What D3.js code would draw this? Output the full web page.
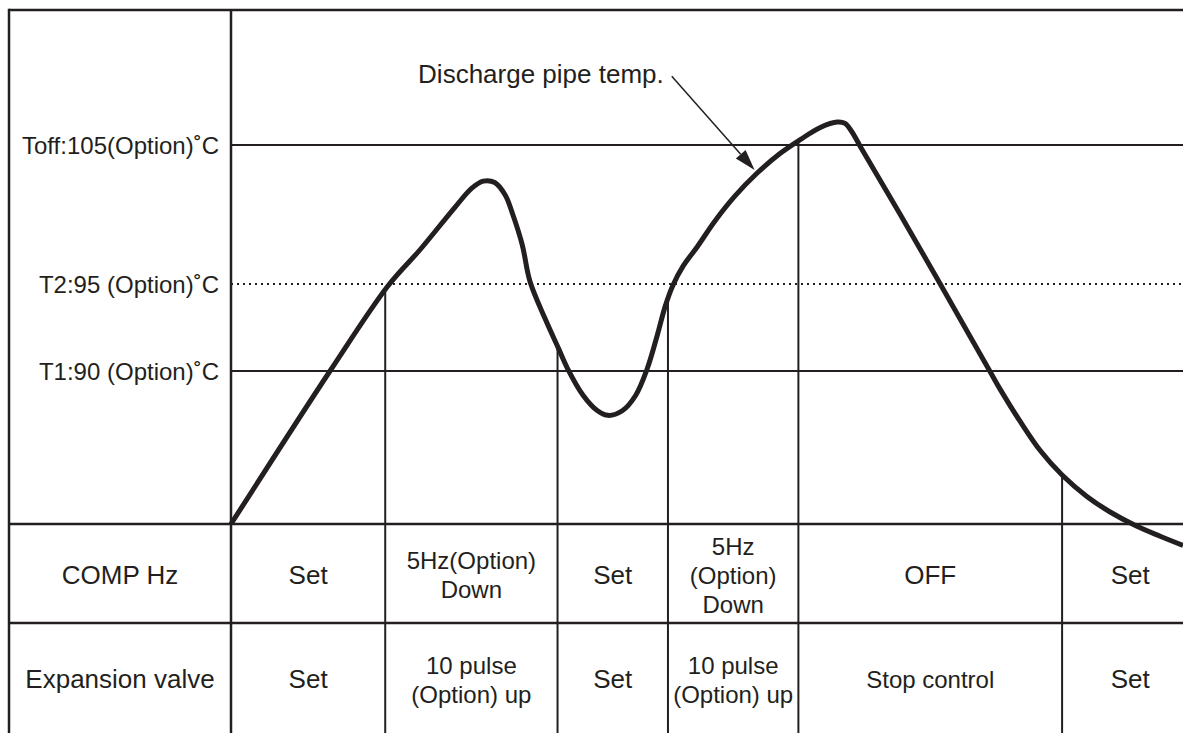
<!DOCTYPE html>
<html>
<head>
<meta charset="utf-8">
<script src="https://cdn.jsdelivr.net/npm/d3@7"></script>
<style>
  html, body { margin: 0; padding: 0; background: #fff; }
  svg { display: block; font-family: "Liberation Sans", Arial, Helvetica, sans-serif; }
</style>
</head>
<body>
<svg id="chart" width="1183" height="733"></svg>
<script>
// Discharge pipe temperature over time (schematic time units, °C)
const timeValues = [0, 10.4, 16.5, 19.9, 23.5, 25.3, 26.5, 27.7, 28.8, 29.6,
                    30.6, 31.4, 33.0, 34.4, 35.3, 37.0, 38.5, 39.6, 41.1, 42.5,
                    43.7, 44.8, 45.6, 46.4, 47.5, 49.0, 50.8, 52.9, 55.3, 57.7,
                    59.8, 61.9, 63.7, 64.5, 65.2, 66.1, 70.3, 74.5, 79.7, 80.8,
                    82.9, 85.0, 87.3, 89.9, 92.3, 95.0, 97.6, 100];
const tempValues = [80, 90, 94.9, 97.5, 100.5, 101.9, 102.4, 102.3, 101.4, 100.0,
                    97.8, 95.2, 93.0, 91.3, 90.2, 88.4, 87.4, 87.1, 87.4, 88.4,
                    90.1, 92.1, 93.7, 94.9, 96.3, 97.7, 99.5, 101.3, 103.0, 104.4,
                    105.4, 106.3, 106.7, 106.6, 106.0, 104.9, 100.0, 95.0, 90.0, 88.8,
                    86.7, 84.8, 83.2, 81.8, 80.8, 79.9, 79.2, 78.6];

// Temperature thresholds
const thresholdLabels = ["Toff:105(Option)˚C", "T2:95 (Option)˚C", "T1:90 (Option)˚C"];
const thresholdValues = [105, 95, 90];
const dottedThreshold = 95;

// Control phases: time at which each phase ends
const phaseEnds = [16.2, 34.3, 45.9, 59.6, 87.3, 101.6];
const rowHeaders = ["COMP Hz", "Expansion valve"];
const compHz = ["Set", "5Hz(Option)\nDown", "Set", "5Hz\n(Option)\nDown", "OFF", "Set"];
const expansionValve = ["Set", "10 pulse\n(Option) up", "Set", "10 pulse\n(Option) up", "Stop control", "Set"];

// Callout for the curve
const calloutText = "Discharge pipe temp.";
const calloutFrom = [46.3, 110.1];
const calloutTo = [55.0, 103.2];

// ---- layout ----
const W = 1183, H = 733;
const ink = "#231f20";
const frameLeft = 9, frameTop = 10, plotLeft = 231, plotRight = W;
const row1Top = 524, row2Top = 623, tableBottom = H;

const x = d3.scaleLinear().domain([0, 100]).range([plotLeft, plotRight]);
// schematic, piecewise temperature axis
const y = d3.scaleLinear().domain([80, 90, 95, 105, 115]).range([row1Top, 371, 284, 145, frameTop]);

const svg = d3.select("#chart");
svg.append("rect").attr("width", W).attr("height", H).attr("fill", "#fff");

// threshold lines
thresholdValues.forEach((v) => {
  svg.append("line")
    .attr("x1", plotLeft).attr("x2", plotRight)
    .attr("y1", y(v)).attr("y2", y(v))
    .attr("stroke", ink)
    .attr("stroke-width", 2)
    .attr("stroke-dasharray", v === dottedThreshold ? "2 4" : null);
});

// threshold labels
svg.selectAll("text.thr")
  .data(thresholdValues)
  .join("text")
  .attr("class", "thr")
  .attr("x", plotLeft - 12)
  .attr("y", (d) => y(d) + 8.5)
  .attr("text-anchor", "end")
  .attr("font-size", 24)
  .attr("fill", ink)
  .text((d, i) => thresholdLabels[i]);

// temperature curve
const points = timeValues.map((t, i) => [x(t), y(tempValues[i])]);
const line = d3.line().curve(d3.curveCatmullRom.alpha(0.5));
const curve = svg.append("path")
  .attr("d", line(points))
  .attr("fill", "none")
  .attr("stroke", ink)
  .attr("stroke-width", 5)
  .attr("stroke-linejoin", "round");

// y of the curve at a given pixel x
const node = curve.node();
const total = node.getTotalLength();
function curveYAt(px) {
  let lo = 0, hi = total;
  for (let k = 0; k < 40; k++) {
    const mid = (lo + hi) / 2;
    if (node.getPointAtLength(mid).x < px) lo = mid; else hi = mid;
  }
  return node.getPointAtLength((lo + hi) / 2).y;
}

// phase boundary markers (curve down through the table)
phaseEnds.slice(0, -1).forEach((t) => {
  svg.insert("line", "path")
    .attr("x1", x(t)).attr("x2", x(t))
    .attr("y1", curveYAt(x(t))).attr("y2", tableBottom)
    .attr("stroke", ink)
    .attr("stroke-width", 2);
});

// table grid and frame
const grid = svg.append("g").attr("stroke", ink).attr("stroke-width", 2.5);
grid.append("line").attr("x1", frameLeft).attr("x2", W).attr("y1", frameTop).attr("y2", frameTop);
grid.append("line").attr("x1", frameLeft).attr("x2", frameLeft).attr("y1", frameTop - 1.25).attr("y2", H);
grid.append("line").attr("x1", plotLeft).attr("x2", plotLeft).attr("y1", frameTop).attr("y2", H);
grid.append("line").attr("x1", frameLeft).attr("x2", W).attr("y1", row1Top).attr("y2", row1Top);
grid.append("line").attr("x1", frameLeft).attr("x2", W).attr("y1", row2Top).attr("y2", row2Top);

// table text
const rows = [
  { header: rowHeaders[0], cells: compHz, center: (row1Top + row2Top) / 2 },
  { header: rowHeaders[1], cells: expansionValve, center: (row2Top + tableBottom) / 2 }
];
const lineStep = 29;
function cellText(cx, cy, text, size) {
  const parts = text.split("\n");
  const n = parts.length;
  const fs = size || ((n === 1 && text.length <= 3) ? 26 : 24);
  const t = svg.append("text")
    .attr("text-anchor", "middle")
    .attr("font-size", fs)
    .attr("fill", ink);
  parts.forEach((p, i) => {
    t.append("tspan")
      .attr("x", cx)
      .attr("y", cy + 10 + (i - (n - 1) / 2) * lineStep)
      .text(p);
  });
}
rows.forEach((r) => {
  cellText((frameLeft + plotLeft) / 2, r.center, r.header, 26);
  r.cells.forEach((c, i) => {
    const start = i === 0 ? 0 : phaseEnds[i - 1];
    cellText((x(start) + x(phaseEnds[i])) / 2, r.center, c);
  });
});

// callout arrow
const p0 = [x(calloutFrom[0]), y(calloutFrom[1])];
const p1 = [x(calloutTo[0]), y(calloutTo[1])];
const dx = p1[0] - p0[0], dy = p1[1] - p0[1];
const len = Math.hypot(dx, dy);
const ux = dx / len, uy = dy / len;
const headLen = 21, headHalf = 6.5;
const base = [p1[0] - ux * headLen, p1[1] - uy * headLen];
svg.append("line")
  .attr("x1", p0[0]).attr("y1", p0[1])
  .attr("x2", base[0]).attr("y2", base[1])
  .attr("stroke", ink).attr("stroke-width", 1.5);
svg.append("path")
  .attr("d", d3.line()([
    p1,
    [base[0] - uy * headHalf, base[1] + ux * headHalf],
    [base[0] + uy * headHalf, base[1] - ux * headHalf]
  ]) + "Z")
  .attr("fill", ink);
svg.append("text")
  .attr("x", p0[0] - 8)
  .attr("y", p0[1] + 7)
  .attr("text-anchor", "end")
  .attr("font-size", 26)
  .attr("fill", ink)
  .text(calloutText);
</script>
</body>
</html>
